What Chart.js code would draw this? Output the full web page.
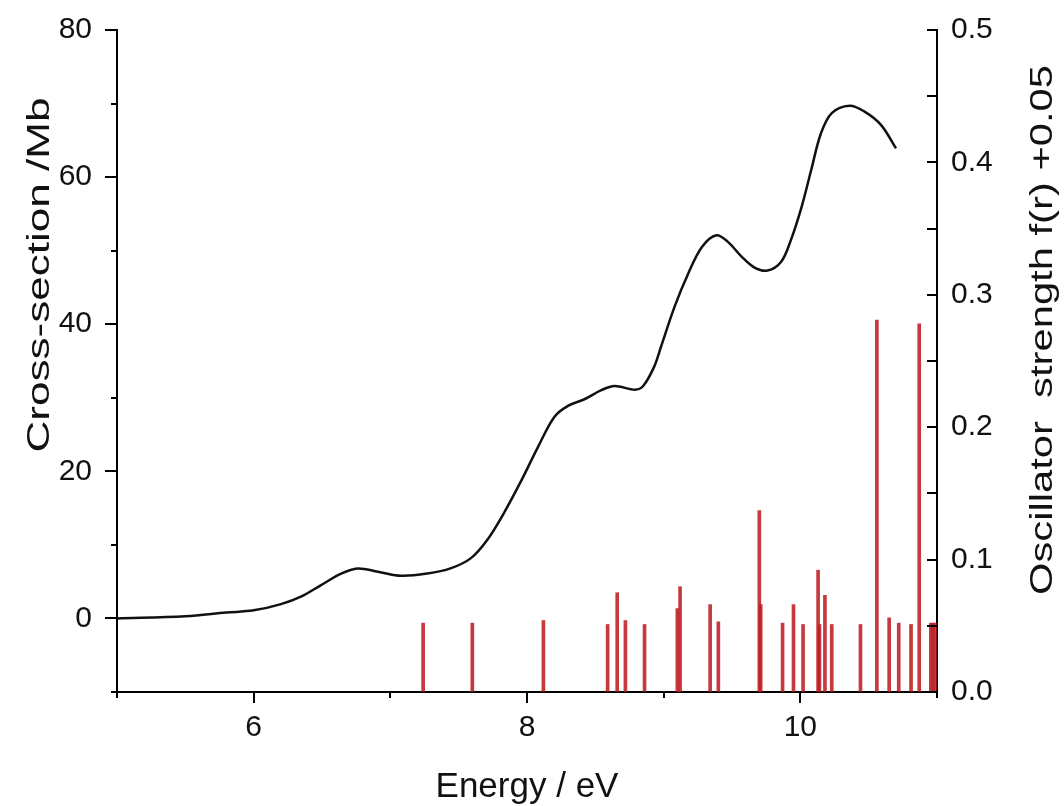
<!DOCTYPE html>
<html>
<head>
<meta charset="utf-8">
<script src="https://cdn.jsdelivr.net/npm/chart.js@4.4.1/dist/chart.umd.min.js"></script>
<style>
  html, body { margin: 0; padding: 0; background: #fff; }
  #wrap { width: 1064px; height: 806px; }
</style>
</head>
<body>
<div id="wrap"><canvas id="spectrumChart" width="1064" height="806"></canvas></div>
<script>
// Photoabsorption cross-section (black curve)
const curveEnergy = [5.0, 5.5, 5.8, 6.0, 6.2, 6.35, 6.49, 6.64, 6.76, 6.91, 7.08, 7.27, 7.44, 7.59, 7.71, 7.83, 7.96, 8.08, 8.2, 8.3, 8.42, 8.54, 8.64, 8.79, 8.85, 8.93, 8.98, 9.08, 9.18, 9.28, 9.385, 9.47, 9.57, 9.665, 9.76, 9.86, 9.93, 10.01, 10.08, 10.15, 10.23, 10.36, 10.47, 10.59, 10.70];
const crossSection = [0, 0.3, 0.8, 1.1, 1.95, 3.0, 4.5, 6.1, 6.8, 6.35, 5.8, 6.1, 6.8, 8.2, 10.7, 14.3, 18.8, 23.3, 27.4, 28.9, 29.8, 31.0, 31.6, 31.1, 31.6, 34.2, 36.9, 42.4, 46.9, 50.5, 52.1, 51.2, 49.2, 47.7, 47.3, 48.5, 51.4, 56.0, 61.0, 65.9, 68.7, 69.7, 68.9, 67.1, 63.9];

// Calculated transitions (red sticks), oscillator strength + 0.05
const stickEnergy = [7.24, 7.60, 8.12, 8.59, 8.66, 8.72, 8.86, 9.10, 9.12, 9.34, 9.40, 9.70, 9.71, 9.87, 9.95, 10.02, 10.13, 10.14, 10.18, 10.23, 10.44, 10.56, 10.65, 10.72, 10.81, 10.87, 10.955, 10.97, 10.985];
const stickStrength = [0.052, 0.052, 0.054, 0.051, 0.075, 0.054, 0.051, 0.063, 0.0795, 0.066, 0.053, 0.137, 0.066, 0.052, 0.066, 0.051, 0.092, 0.051, 0.073, 0.051, 0.051, 0.281, 0.056, 0.052, 0.051, 0.278, 0.052, 0.052, 0.052];

// axis labelling
const energyLabels = [6, 8, 10];
const sectionLabels = [0, 20, 40, 60, 80];
const xTitle = 'Energy / eV';
const yTitle = 'Cross-section /Mb';
const y2Title = 'Oscillator  strength f(r) +0.05';

const FONT = "'Liberation Sans', Arial, sans-serif";
const tickFont = { family: FONT, size: 30 };

// rotated title, stretched along its length like the original export
function drawVertical(ctx, text, cx, cy, length) {
  ctx.save();
  ctx.font = `32px ${FONT}`;
  const w = ctx.measureText(text).width;
  ctx.translate(cx, cy);
  ctx.rotate(-Math.PI / 2);
  ctx.scale(length / w, 1);
  ctx.fillText(text, 0, 0);
  ctx.restore();
}

// tick marks (major long, minor short; right axis points inward) and axis titles
const axisExtras = {
  id: 'axisExtras',
  afterDraw(chart) {
    const { ctx, chartArea } = chart;
    const { x, y, y2 } = chart.scales;
    ctx.save();
    ctx.strokeStyle = '#000';
    ctx.lineWidth = 2;
    ctx.beginPath();
    x.ticks.forEach(t => {
      const px = Math.round(x.getPixelForValue(t.value));
      const len = energyLabels.includes(t.value) ? 11 : 6;
      ctx.moveTo(px, chartArea.bottom);
      ctx.lineTo(px, chartArea.bottom + len);
    });
    y.ticks.forEach(t => {
      const py = Math.round(y.getPixelForValue(t.value));
      const len = sectionLabels.includes(t.value) ? 12 : 6;
      ctx.moveTo(chartArea.left, py);
      ctx.lineTo(chartArea.left - len, py);
    });
    y2.ticks.forEach(t => {
      const py = Math.round(y2.getPixelForValue(t.value));
      ctx.moveTo(chartArea.right, py);
      ctx.lineTo(chartArea.right - 10, py);
    });
    ctx.stroke();

    ctx.fillStyle = '#111';
    ctx.textAlign = 'center';
    ctx.font = `35px ${FONT}`;
    ctx.textBaseline = 'alphabetic';
    ctx.fillText(xTitle, (chartArea.left + chartArea.right) / 2, chartArea.bottom + 105);
    ctx.textBaseline = 'middle';
    drawVertical(ctx, yTitle, chartArea.left - 77, chartArea.top + 245, 355);
    drawVertical(ctx, y2Title, chartArea.right + 106, chartArea.top + 300, 530);
    ctx.restore();
  }
};

new Chart(document.getElementById('spectrumChart').getContext('2d'), {
  type: 'line',
  data: {
    datasets: [
      {
        type: 'line',
        label: 'Cross-section',
        data: curveEnergy.map((e, i) => ({ x: e, y: crossSection[i] })),
        borderColor: '#111',
        borderWidth: 2.5,
        pointRadius: 0,
        tension: 0.35,
        xAxisID: 'x',
        yAxisID: 'y',
        order: 1
      },
      {
        type: 'bar',
        label: 'Oscillator strength',
        data: stickEnergy.map((e, i) => ({ x: e, y: stickStrength[i] })),
        backgroundColor: 'rgba(190, 30, 35, 0.88)',
        borderWidth: 0,
        barThickness: 3,
        grouped: false,
        xAxisID: 'x',
        yAxisID: 'y2',
        order: 2
      }
    ]
  },
  options: {
    responsive: false,
    animation: false,
    layout: { padding: { top: 30, left: 0, right: 0, bottom: 0 } },
    plugins: {
      legend: { display: false },
      tooltip: { enabled: false }
    },
    scales: {
      x: {
        type: 'linear',
        min: 5,
        max: 11,
        offset: false,
        afterFit: s => { s.height = 114; },
        border: { color: '#000', width: 2 },
        grid: { drawOnChartArea: false, drawTicks: false, offset: false },
        ticks: {
          stepSize: 1,
          autoSkip: false,
          maxRotation: 0,
          padding: 18,
          color: '#111',
          font: tickFont,
          callback: v => energyLabels.includes(v) ? String(v) : ''
        }
      },
      y: {
        position: 'left',
        min: -10,
        max: 80,
        afterFit: s => { s.width = 117; s.paddingTop = 0; s.paddingBottom = 0; },
        border: { color: '#000', width: 2 },
        grid: { drawOnChartArea: false, drawTicks: false },
        ticks: {
          stepSize: 10,
          autoSkip: false,
          padding: 25,
          color: '#111',
          font: tickFont,
          callback: v => sectionLabels.includes(v) ? String(v) : ''
        }
      },
      y2: {
        position: 'right',
        min: 0,
        max: 0.5,
        afterFit: s => { s.width = 127; s.paddingTop = 0; s.paddingBottom = 0; },
        border: { color: '#000', width: 2 },
        grid: { drawOnChartArea: false, drawTicks: false },
        ticks: {
          stepSize: 0.05,
          autoSkip: false,
          padding: 14,
          color: '#111',
          font: tickFont,
          callback: v => Math.round(v * 100) % 10 === 0 ? v.toFixed(1) : ''
        }
      }
    }
  },
  plugins: [axisExtras]
});
</script>
</body>
</html>
